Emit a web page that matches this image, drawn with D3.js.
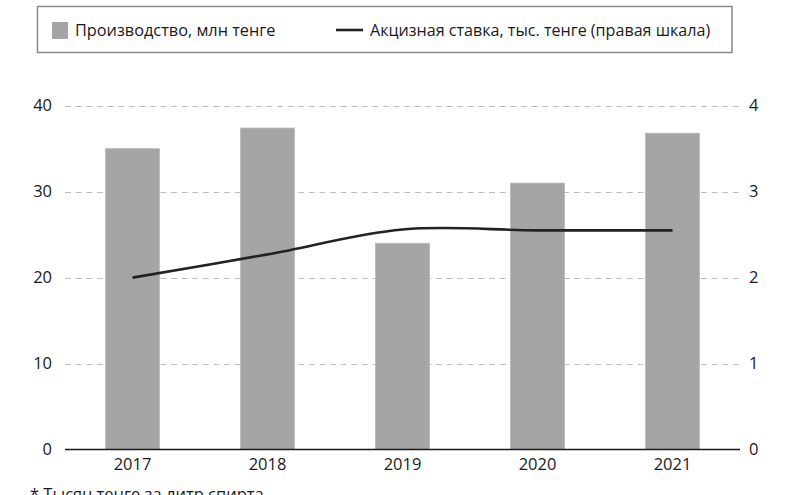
<!DOCTYPE html>
<html>
<head>
<meta charset="utf-8">
<script src="https://cdn.jsdelivr.net/npm/d3@7"></script>
<style>
    html, body { margin: 0; padding: 0; background: #fff; }
    svg text { font-family: "Open Sans", sans-serif; fill: #1a1a1a; }
</style>
</head>
<body>
<div id="chart-container"></div>
<script>
const years = ["2017", "2018", "2019", "2020", "2021"];
// Производство, млн тенге (левая шкала)
const production = [35.0, 37.4, 24.0, 31.0, 36.8];
// Акцизная ставка, тыс. тенге (правая шкала)
const exciseRate = [2.0, 2.27, 2.56, 2.55, 2.55];
const leftTicks = [0, 10, 20, 30, 40];
const rightTicks = [0, 1, 2, 3, 4];
const legendLabels = ["Производство, млн тенге", "Акцизная ставка, тыс. тенге (правая шкала)"];
const footnote = "* Тысяч тенге за литр спирта";

const width = 793;
const height = 495;

const svg = d3
    .select("#chart-container")
    .append("svg")
    .attr("width", width)
    .attr("height", height);

const x = d3.scaleBand().domain(years).range([65, 740]).paddingInner(0.6).paddingOuter(0.3);
const yLeft = d3.scaleLinear().domain([0, 40]).range([449.5, 105.7]);
const yRight = d3.scaleLinear().domain([0, 4]).range([449.5, 105.7]);

// Сетка (пунктир)
svg.append("g")
    .attr("class", "grid")
    .selectAll("line")
    .data(leftTicks.filter((d) => d > 0))
    .enter()
    .append("line")
    .attr("x1", 65)
    .attr("x2", 740)
    .attr("y1", (d) => Math.round(yLeft(d)) + 0.5)
    .attr("y2", (d) => Math.round(yLeft(d)) + 0.5)
    .style("stroke", "#bdbdbd")
    .style("stroke-width", 1.2)
    .style("stroke-dasharray", "6,4.6");

// Столбцы
svg.append("g")
    .attr("class", "bars")
    .selectAll("rect")
    .data(years)
    .enter()
    .append("rect")
    .attr("x", (d) => x(d))
    .attr("y", (d, i) => yLeft(production[i]))
    .attr("width", x.bandwidth())
    .attr("height", (d, i) => yLeft(0) - yLeft(production[i]))
    .style("fill", "#a5a5a5")
    .style("stroke", "#b8b8b8")
    .style("stroke-width", 0.8);

// Базовая линия
svg.append("line")
    .attr("x1", 65)
    .attr("x2", 740)
    .attr("y1", yLeft(0))
    .attr("y2", yLeft(0))
    .style("stroke", "#1a1a1a")
    .style("stroke-width", 1.6);

// Линия акцизной ставки
const line = d3
    .line()
    .x((d, i) => x(years[i]) + x.bandwidth() / 2)
    .y((d) => yRight(d))
    .curve(d3.curveCatmullRom.alpha(0.5));

svg.append("path")
    .datum(exciseRate)
    .attr("d", line)
    .style("fill", "none")
    .style("stroke", "#222")
    .style("stroke-width", 2.6)
    .style("stroke-linecap", "butt");

// Оси
const leftAxis = svg.append("g")
    .attr("transform", "translate(52,0)")
    .call(d3.axisLeft(yLeft).tickValues(leftTicks).tickFormat(d3.format("d")).tickSize(0).tickPadding(0));
const rightAxis = svg.append("g")
    .attr("transform", "translate(749,0)")
    .call(d3.axisRight(yRight).tickValues(rightTicks).tickFormat(d3.format("d")).tickSize(0).tickPadding(0));
const bottomAxis = svg.append("g")
    .attr("transform", `translate(0,${yLeft(0)})`)
    .call(d3.axisBottom(x).tickSize(0).tickPadding(10));

[leftAxis, rightAxis, bottomAxis].forEach((axis) => {
    axis.select(".domain").remove();
    axis.selectAll("text")
        .style("font-size", "16.5px")
        .style("font-family", "'Open Sans', sans-serif")
        .style("fill", "#1a1a1a");
});
bottomAxis.selectAll("text").attr("dy", "0.71em").attr("y", 9);

// Легенда
const legend = svg.append("g").attr("class", "legend");
legend.append("rect")
    .attr("x", 37.5)
    .attr("y", 6.5)
    .attr("width", 694.5)
    .attr("height", 46)
    .style("fill", "#fff")
    .style("stroke", "#8a8a8a")
    .style("stroke-width", 1.5);
legend.append("rect")
    .attr("x", 52)
    .attr("y", 22)
    .attr("width", 16)
    .attr("height", 17)
    .style("fill", "#a5a5a5");
legend.append("text")
    .attr("x", 75)
    .attr("y", 30.5)
    .attr("dy", "0.35em")
    .style("font-size", "16.3px")
    .text(legendLabels[0]);
legend.append("line")
    .attr("x1", 336)
    .attr("x2", 363)
    .attr("y1", 30)
    .attr("y2", 30)
    .style("stroke", "#222")
    .style("stroke-width", 2.6);
legend.append("text")
    .attr("x", 370)
    .attr("y", 30.5)
    .attr("dy", "0.35em")
    .style("font-size", "16.1px")
    .text(legendLabels[1]);

// Сноска (обрезана снизу, как в оригинале)
svg.append("text")
    .attr("x", 30)
    .attr("y", 500)
    .style("font-size", "16.5px")
    .text(footnote);
</script>
</body>
</html>
